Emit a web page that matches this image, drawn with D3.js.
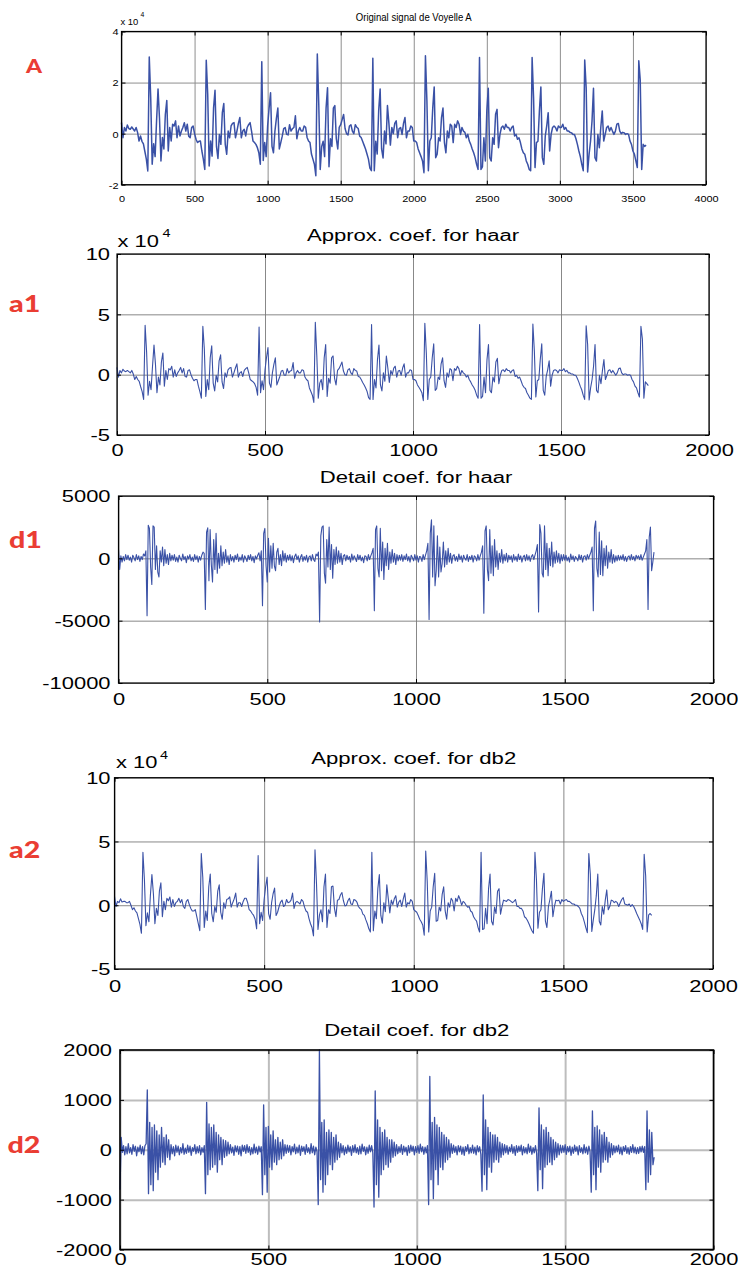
<!DOCTYPE html>
<html>
<head>
<meta charset="utf-8">
<script src="https://cdn.jsdelivr.net/npm/d3@7"></script>
<style>
  html, body { margin: 0; padding: 0; background: #fff; }
  svg { display: block; }
</style>
</head>
<body>
<script>
// Vowel "A": original speech signal and its level-1 wavelet coefficients.

// Original signal, in units of 10^4, one value every 10 samples.
const signalA = [
  0.43,-0.16,0.24,0.1,0.34,0.2,0.17,0.26,0.18,0.1,
  0.24,0.05,-0.29,-0.09,-0.3,-0.4,-0.7,-1.0,-1.46,3.0,
  1.4,-1.2,-0.4,-0.9,0.5,1.75,0.6,-1.07,-0.15,-0.6,
  0.75,1.3,-0.68,0.24,-0.29,0.37,0.3,0.5,-0.16,0.3,
  -0.09,0.1,0.24,0.43,0.1,0.37,-0.1,-0.16,0.24,0.3,
  0.0,-0.22,-0.35,-0.3,-0.29,-0.68,-1.0,-1.4,2.87,1.54,
  -1.27,-0.29,-0.88,1.0,1.7,-0.5,-0.97,-0.03,-0.42,0.82,
  1.18,-0.42,-0.81,0.1,-0.16,0.3,0.4,0.43,-0.16,0.1,
  0.4,0.63,-0.16,0.1,0.17,-0.09,0.24,0.35,0.43,0.1,
  -0.29,-0.35,-0.42,-0.55,-0.75,-1.2,2.82,-1.05,-0.35,-0.9,
  0.3,1.0,1.6,-0.5,-0.75,0.1,0.6,1.0,-0.6,-0.35,
  -0.1,0.2,0.24,-0.03,-0.05,0.35,0.1,0.2,0.24,0.7,
  -0.2,0.1,0.24,0.1,0.1,0.3,0.25,-0.15,-0.29,-0.35,
  -0.8,-1.0,-1.2,-1.65,3.12,1.15,-1.4,-0.5,-0.3,-0.9,
  1.0,1.8,-1.3,-0.2,-0.5,1.0,1.1,-0.2,-0.6,0.25,
  0.35,0.55,0.75,0.2,0.0,-0.05,0.3,0.35,0.1,0.0,
  0.35,0.25,0.2,-0.1,-0.15,-0.3,-0.45,-0.6,-0.8,-1.0,
  -1.35,-1.45,2.95,-1.45,-0.3,-0.8,0.9,1.75,-0.6,-0.95,
  0.1,-0.4,1.1,0.4,-0.45,0.24,0.0,0.4,0.5,-0.16,
  0.2,0.24,-0.03,0.4,0.63,-0.16,0.1,0.1,0.3,0.24,
  -0.29,-0.29,-0.35,-0.6,-0.75,-0.9,-1.07,-1.53,3.05,1.3,
  -1.45,-0.29,-0.16,1.0,1.83,-0.94,-0.81,-0.16,-0.29,0.63,
  1.0,-0.35,-0.75,0.1,-0.16,0.37,0.3,-0.35,0.37,0.24,
  0.5,0.37,-0.03,0.24,0.1,0.05,-0.16,-0.03,-0.29,-0.42,
  -0.6,-0.75,-0.94,-1.2,-1.4,2.98,-1.4,-1.3,-0.16,-1.07,
  0.89,1.78,-0.94,-1.07,-0.16,-0.42,0.76,0.95,-0.55,-0.03,
  0.24,0.3,0.17,0.37,0.24,0.24,0.1,0.24,0.3,-0.09,
  -0.03,-0.22,-0.16,-0.35,-0.6,-0.75,-0.81,-1.07,-1.2,-1.4,
  -1.45,2.98,1.4,-1.33,-0.35,-0.3,0.9,1.83,-0.94,-1.2,
  -0.1,0.3,0.82,-0.68,-0.03,0.24,0.3,0.24,0.1,0.3,
  0.24,0.24,0.37,0.17,0.24,0.1,0.1,0.05,0.03,-0.03,
  -0.03,-0.2,-0.42,-0.68,-0.9,-1.2,-1.45,2.88,1.8,-1.5,
  -0.8,-0.29,0.5,1.78,-0.94,-1.07,-0.03,-0.55,0.24,0.89,
  -0.29,-0.03,0.24,0.3,0.1,0.24,0.1,-0.03,0.1,0.37,
  0.4,0.1,0.0,0.05,0.03,-0.03,0.0,-0.03,-0.29,-0.42,
  -0.68,-0.8,-1.07,-1.33,2.85,2.1,-1.4,-0.42,-0.5,-0.45
];

// Haar approximation coefficients, units of 10^4, every 5th coefficient.
const approxHaar = [
  0.6,-0.2,0.35,0.15,0.45,0.3,0.25,0.35,0.25,0.15,
  0.35,0.05,-0.4,-0.15,-0.4,-0.55,-1.0,-1.4,-2.05,4.1,
  1.9,-1.7,-0.55,-1.25,0.7,2.45,0.85,-1.5,-0.2,-0.85,
  1.05,1.8,-0.95,0.35,-0.4,0.5,0.4,0.7,-0.2,0.4,
  -0.15,0.15,0.35,0.6,0.15,0.5,-0.15,-0.2,0.35,0.4,
  0.0,-0.3,-0.5,-0.4,-0.4,-0.95,-1.4,-1.95,4.0,2.15,
  -1.8,-0.4,-1.25,1.4,2.4,-0.7,-1.35,-0.05,-0.6,1.15,
  1.65,-0.6,-1.15,0.15,-0.2,0.4,0.55,0.6,-0.2,0.15,
  0.55,0.9,-0.2,0.15,0.25,-0.15,0.35,0.5,0.6,0.15,
  -0.4,-0.5,-0.6,-0.75,-1.05,-1.7,3.95,-1.5,-0.5,-1.25,
  0.4,1.4,2.25,-0.7,-1.05,0.15,0.85,1.4,-0.85,-0.5,
  -0.15,0.3,0.35,-0.05,-0.05,0.5,0.15,0.3,0.35,1.0,
  -0.3,0.15,0.35,0.15,0.15,0.4,0.35,-0.2,-0.4,-0.5,
  -1.1,-1.4,-1.7,-2.3,4.35,1.6,-1.95,-0.7,-0.4,-1.25,
  1.4,2.5,-1.8,-0.3,-0.7,1.4,1.55,-0.3,-0.85,0.35,
  0.5,0.75,1.05,0.3,0.0,-0.05,0.4,0.5,0.15,0.0,
  0.5,0.35,0.3,-0.15,-0.2,-0.4,-0.65,-0.85,-1.1,-1.4,
  -1.9,-2.05,4.15,-2.05,-0.4,-1.1,1.25,2.45,-0.85,-1.35,
  0.15,-0.55,1.55,0.55,-0.65,0.35,0.0,0.55,0.7,-0.2,
  0.3,0.35,-0.05,0.55,0.9,-0.2,0.15,0.15,0.4,0.35,
  -0.4,-0.4,-0.5,-0.85,-1.05,-1.25,-1.5,-2.15,4.25,1.8,
  -2.05,-0.4,-0.2,1.4,2.55,-1.3,-1.15,-0.2,-0.4,0.9,
  1.4,-0.5,-1.05,0.15,-0.2,0.5,0.4,-0.5,0.5,0.35,
  0.7,0.5,-0.05,0.35,0.15,0.05,-0.2,-0.05,-0.4,-0.6,
  -0.85,-1.05,-1.3,-1.7,-1.95,4.15,-1.95,-1.8,-0.2,-1.5,
  1.25,2.5,-1.3,-1.5,-0.2,-0.6,1.05,1.35,-0.75,-0.05,
  0.35,0.4,0.25,0.5,0.35,0.35,0.15,0.35,0.4,-0.15,
  -0.05,-0.3,-0.2,-0.5,-0.85,-1.05,-1.15,-1.5,-1.7,-1.95,
  -2.05,4.2,1.95,-1.85,-0.5,-0.4,1.25,2.55,-1.3,-1.7,
  -0.15,0.4,1.15,-0.95,-0.05,0.35,0.4,0.35,0.15,0.4,
  0.35,0.35,0.5,0.25,0.35,0.15,0.15,0.05,0.05,-0.05,
  -0.05,-0.3,-0.6,-0.95,-1.25,-1.7,-2.05,4.05,2.5,-2.1,
  -1.1,-0.4,0.7,2.5,-1.3,-1.5,-0.05,-0.75,0.35,1.25,
  -0.4,-0.05,0.35,0.4,0.15,0.35,0.15,-0.05,0.15,0.5,
  0.55,0.15,0.0,0.05,0.05,-0.05,0.0,-0.05,-0.4,-0.6,
  -0.95,-1.1,-1.5,-1.85,4.0,2.95,-1.95,-0.6,-0.75,-0.9
];

// Haar detail coefficients, every 4th coefficient.
const detailHaar = [
  700,-900,200,-300,150,-200,300,-100,250,-150,
  100,-300,250,50,-200,300,-100,200,-250,150,
  -100,350,200,600,-4600,
  2650,2400,-700,-2100,2600,2500,-900,1000,-1100,-1500,
  600,-300,900,-600,700,-400,300,-500,400,-200,
  250,-150,300,-250,100,-300,250,0,-200,350,
  -100,150,-350,200,-50,300,-200,100,-250,300,
  -100,200,-300,150,-150,250,500,
  400,-4100,
  2100,2450,-1800,2300,-500,-1900,1500,-900,2000,-1200,
  400,-800,1000,-600,500,-400,700,-300,200,-500,
  300,-200,150,-300,250,-100,350,-250,100,-150,
  300,-300,200,0,-250,250,-100,300,-200,150,
  -350,200,-50,250,450,-200,
  600,-3800,
  2000,2400,-600,-1900,1600,-1100,1000,-800,1200,-600,
  -1000,500,800,-500,300,-600,600,-200,400,-300,
  250,-150,300,-200,200,-350,150,350,-100,200,
  -300,100,300,-250,150,-150,250,-300,100,200,
  -200,300,-100,-250,350,200,
  500,-5100,
  1800,2500,2600,-1200,-2000,1500,-700,2500,-900,1100,
  -1600,700,-500,900,-400,600,-300,400,-500,200,
  300,-200,250,-100,150,-300,350,-150,200,0,
  -250,300,-100,250,-200,100,-350,200,150,-200,
  300,-100,200,450,
  800,-4200,
  2300,2600,-800,-1500,2400,-1000,1300,-1700,800,-600,
  1200,-900,500,-400,700,-300,400,-500,300,-200,
  250,-150,300,-250,200,-100,350,-200,150,-300,
  250,50,-200,300,-150,200,-300,150,100,-250,
  300,-100,250,600,
  1200,-4900,
  2000,3100,-1500,2600,-2200,-1000,1800,-1500,900,-1100,
  -400,1300,-700,600,-500,800,-300,400,-400,200,
  300,-200,150,-250,350,-100,200,-300,250,0,
  -150,300,-250,150,-100,250,-300,200,100,-200,
  300,-150,200,500,
  1000,-4400,
  2200,2600,-900,-1800,2300,-1200,1000,-1400,1500,-700,
  600,-900,400,-300,700,-400,300,-200,400,-300,
  250,-100,200,-300,300,-150,150,-250,350,-100,
  200,-300,100,250,-200,300,-150,200,-250,150,
  300,-100,250,600,
  1100,-4300,
  2700,2000,-1200,-1500,2600,-900,1200,-1400,800,-600,
  1300,-700,500,-400,600,-300,400,-400,300,-200,
  300,-150,250,-200,100,-300,350,-100,200,-250,
  150,0,-200,300,-100,250,-300,150,200,-150,
  300,-50,250,500,
  900,-4200,
  2400,3000,-800,-1500,2100,-1300,1400,-1400,800,-600,
  1000,-800,500,-300,700,-400,300,-300,200,-200,
  250,-150,200,-100,300,-200,150,-250,100,200,
  -150,300,-100,150,-200,250,0,200,-100,300,
  -150,100,350,600,
  1500,-4100,
  1700,2500,-1000,-300,500
];

// db2 approximation coefficients, units of 10^4, every 5th coefficient.
const approxDb2 = [
  0.7,-0.1,0.3,0.2,0.5,0.25,0.3,0.3,0.2,0.2,
  0.3,0.0,-0.35,-0.2,-0.45,-0.6,-1.05,-1.5,-2.2,4.15,
  2.0,-1.6,-0.6,-1.3,0.8,2.4,0.9,-1.45,-0.25,-0.8,
  1.1,1.75,-0.9,0.3,-0.35,0.55,0.35,0.65,-0.15,0.45,
  -0.1,0.2,0.3,0.55,0.2,0.45,-0.1,-0.25,0.3,0.45,
  0.05,-0.25,-0.45,-0.45,-0.35,-0.9,-1.45,-2.0,4.05,2.2,
  -1.75,-0.45,-1.2,1.45,2.45,-0.65,-1.3,-0.1,-0.55,1.1,
  1.6,-0.55,-1.1,0.2,-0.25,0.45,0.5,0.65,-0.15,0.2,
  0.5,0.95,-0.15,0.2,0.2,-0.1,0.3,0.55,0.55,0.2,
  -0.35,-0.45,-0.65,-0.8,-1.1,-1.85,3.9,-1.45,-0.55,-1.2,
  0.45,1.45,2.2,-0.65,-1.1,0.2,0.9,1.35,-0.8,-0.55,
  -0.1,0.25,0.4,-0.1,0.0,0.45,0.2,0.25,0.4,0.95,
  -0.25,0.2,0.3,0.2,0.1,0.45,0.3,-0.15,-0.45,-0.55,
  -1.05,-1.45,-1.75,-2.4,4.35,1.7,-1.9,-0.75,-0.35,-1.3,
  1.45,2.45,-1.75,-0.35,-0.65,1.45,1.5,-0.25,-0.9,0.4,
  0.45,0.8,1.0,0.35,-0.05,0.0,0.35,0.55,0.1,0.05,
  0.45,0.4,0.25,-0.1,-0.25,-0.35,-0.7,-0.8,-1.15,-1.45,
  -1.85,-2.1,4.15,-2.0,-0.45,-1.05,1.3,2.4,-0.8,-1.4,
  0.2,-0.5,1.6,0.5,-0.6,0.4,0.05,0.5,0.75,-0.15,
  0.25,0.4,-0.1,0.5,0.95,-0.15,0.2,0.1,0.45,0.3,
  -0.35,-0.45,-0.55,-0.8,-1.1,-1.3,-1.55,-2.35,4.25,1.9,
  -2.1,-0.45,-0.15,1.45,2.5,-1.25,-1.2,-0.15,-0.45,0.85,
  1.45,-0.45,-1.1,0.2,-0.15,0.55,0.35,-0.45,0.55,0.3,
  0.75,0.45,0.0,0.3,0.2,0.0,-0.15,-0.1,-0.45,-0.55,
  -0.9,-1.1,-1.25,-1.75,-2.1,4.15,-1.9,-1.85,-0.25,-1.45,
  1.3,2.45,-1.25,-1.55,-0.15,-0.65,1.1,1.3,-0.7,-0.1,
  0.4,0.35,0.3,0.45,0.4,0.3,0.2,0.3,0.45,-0.1,
  -0.1,-0.25,-0.25,-0.45,-0.9,-1.0,-1.2,-1.45,-1.75,-2.0,
  -2.2,4.15,2.0,-1.8,-0.55,-0.35,1.3,2.5,-1.25,-1.75,
  -0.1,0.45,1.1,-0.9,-0.1,0.4,0.35,0.4,0.1,0.45,
  0.3,0.4,0.45,0.3,0.3,0.2,0.1,0.1,0.0,0.0,
  -0.1,-0.25,-0.65,-0.9,-1.3,-1.75,-2.15,4.05,2.45,-2.05,
  -1.15,-0.35,0.75,2.45,-1.25,-1.55,-0.1,-0.7,0.4,1.2,
  -0.35,-0.1,0.4,0.35,0.2,0.3,0.2,-0.1,0.2,0.45,
  0.6,0.1,0.05,0.0,0.1,-0.1,0.05,-0.1,-0.35,-0.65,
  -0.9,-1.15,-1.45,-1.9,4.0,2.3,-2.1,-0.75,-0.65,-0.8
];

// db2 detail coefficients, every 4th coefficient.
const detailDb2 = [
  -800,250,-50,80,-100,60,-80,120,-60,40,
  -90,100,-30,70,-120,50,-40,90,-80,60,
  -100,80,
  120,1200,-880,
  550,-700,450,-820,500,-450,380,-600,300,-350,450,-250,250,-300,300,-150,200,-200,
  100,-80,60,-120,90,-50,70,-100,40,-60,120,-90,30,-70,90,-50,70,-110,40,-30,
  100,-80,60,-60,80,-100,40,-50,80,
  -880,950,
  -500,520,-400,450,-350,500,-300,350,-450,300,-200,250,-300,200,-150,180,-120,150,
  -80,100,-60,50,-110,80,-40,70,-90,60,-120,90,-30,80,-70,100,-50,60,-100,40,
  -80,110,-60,50,-90,70,-40,60,
  -900,900,
  -500,450,-850,470,-350,300,-400,380,-250,200,-300,250,-200,150,-180,200,-120,100,
  -70,90,-50,80,-100,60,-40,110,-80,50,-60,90,-110,70,-30,60,-90,100,-50,40,
  -80,120,-60,70,-100,50,-40,
  -1100,2000,
  -600,550,-850,600,-700,350,-500,400,-300,350,-400,250,-250,300,-200,150,-150,120,
  -60,80,-100,50,-70,90,-40,60,-110,80,-50,100,-60,40,-90,70,-80,110,-30,60,
  -100,50,-70,90,-40,80,-60,
  -1150,1180,
  -700,600,-950,450,-500,350,-400,400,-300,250,-350,200,-250,200,-150,150,-120,100,
  -80,60,-50,100,-90,70,-40,50,-110,80,-60,90,-30,70,-100,60,-50,80,-70,110,
  -40,60,-90,50,-60,80,
  -1100,1470,
  -600,550,-980,650,-400,500,-700,450,-350,350,-400,300,-250,250,-200,200,-150,120,
  -70,90,-50,60,-100,80,-40,70,-90,50,-110,60,-30,100,-80,40,-60,90,-70,50,
  -100,80,-40,60,-90,
  -830,1100,
  -500,600,-800,450,-350,350,-450,300,-250,300,-200,250,-250,150,-150,120,-100,100,
  -60,80,-90,50,-40,100,-70,60,-110,80,-50,70,-30,90,-100,60,-60,40,-80,110,
  -50,70,-90,40,-60,80,-70,
  -820,840,
  -400,500,-780,400,-350,450,-300,350,-250,250,-300,200,-200,150,-150,120,-100,90,
  -60,80,-50,100,-90,60,-40,70,-110,50,-70,90,-30,60,-100,80,-50,40,-80,100,
  -60,50,-90,70,-40,
  -850,780,
  -500,450,-800,480,-350,400,-450,300,-250,350,-200,250,-250,150,-150,120,-100,80,
  -60,70,-40,90,-80,50,-100,60,-30,80,-70,40,-90,60,-50,100,-60,50,-80,40,
  -70,60,-40,70,-50,60,
  -800,780,
  -650,400,-500,350,-300,-150
];

// Sample spacing of each stored series.
const stepSignal = 10, stepApprox = 5, stepDetail = 4;

const titles = [
  "Original signal de Voyelle A",
  "Approx. coef. for haar",
  "Detail coef. for haar",
  "Approx. coef. for db2",
  "Detail coef. for db2"
];
const rowLabels = ["A", "a1", "d1", "a2", "d2"];
const xTicksSignal = [0, 500, 1000, 1500, 2000, 2500, 3000, 3500, 4000];
const xTicksCoef = [0, 500, 1000, 1500, 2000];
const yTicksSignal = [-2, 0, 2, 4];
const yTicksApprox = [-5, 0, 5, 10];
const yTicksDetailHaar = [-10000, -5000, 0, 5000];
const yTicksDetailDb2 = [-2000, -1000, 0, 1000, 2000];
const exponentText = ["x 10", "4"];

const series = [
  { values: signalA,    step: stepSignal, xDomain: [0, 4000], xTicks: xTicksSignal, yDomain: [-2, 4],        yTicks: yTicksSignal,     scaled: true  },
  { values: approxHaar, step: stepApprox, xDomain: [0, 2000], xTicks: xTicksCoef,   yDomain: [-5, 10],       yTicks: yTicksApprox,     scaled: true  },
  { values: detailHaar, step: stepDetail, xDomain: [0, 2000], xTicks: xTicksCoef,   yDomain: [-10000, 5000], yTicks: yTicksDetailHaar, scaled: false },
  { values: approxDb2,  step: stepApprox, xDomain: [0, 2000], xTicks: xTicksCoef,   yDomain: [-5, 10],       yTicks: yTicksApprox,     scaled: true  },
  { values: detailDb2,  step: stepDetail, xDomain: [0, 2000], xTicks: xTicksCoef,   yDomain: [-2000, 2000],  yTicks: yTicksDetailDb2,  scaled: false }
];

// Page geometry and typography of each subplot.
const layout = [
  { box: [121.5, 706, 31.5, 184.7], lw: 1.5, grid: "#8f8f8f", gw: 1,   bw: 1.2, font: 9.5, sx: 1.15, xlab: 202,   ygap: 3,
    title: { y: 20.5, size: 11, len: 116 },
    exp: { x: 120.5, y: 25, size: 9, sx: 1.05, supX: 140.5, supY: 16.7, supSize: 6.5 },
    label: { x: 26, y: 73, size: 19, sx: 1.2 } },
  { box: [117, 709, 254, 435], lw: 1.1, grid: "#7a7a7a", gw: 0.9, bw: 1.2, font: 16, sx: 1.37, xlab: 456,   ygap: 7,
    title: { y: 241, size: 16, sx: 1.38 },
    exp: { x: 117.5, y: 246.7, size: 16, sx: 1.37, supX: 162.5, supY: 237.3, supSize: 10.5 },
    label: { x: 9, y: 311.7, size: 22, sx: 1.3 } },
  { box: [118.5, 713.5, 496, 683], lw: 1.1, grid: "#7a7a7a", gw: 0.9, bw: 1.2, font: 16, sx: 1.37, xlab: 705,   ygap: 8,
    title: { y: 482.7, size: 16, sx: 1.38 },
    label: { x: 9, y: 548.3, size: 22, sx: 1.3 } },
  { box: [114.5, 713, 777.7, 969], lw: 1.1, grid: "#7a7a7a", gw: 0.9, bw: 1.2, font: 16, sx: 1.37, xlab: 992.5, ygap: 4,
    title: { y: 764, size: 16, sx: 1.38 },
    exp: { x: 116, y: 768.3, size: 16, sx: 1.37, supX: 160, supY: 759, supSize: 10.5 },
    label: { x: 9, y: 858, size: 22, sx: 1.3 } },
  { box: [120, 713.5, 1050, 1249.5], lw: 1.3, grid: "#bdbdbd", gw: 2, bw: 1.6, font: 16, sx: 1.37, xlab: 1265.5, ygap: 8,
    title: { y: 1036, size: 16, sx: 1.38 },
    label: { x: 7.5, y: 1153, size: 22, sx: 1.3 } }
];

const W = 738, H = 1276;
const LINE = "#3a51a6";
const RED = "#ea3d33";
const FONT = "'Liberation Sans', Arial, Helvetica, sans-serif";
const LABEL_FONT = "Lato, 'Open Sans', 'Noto Sans', sans-serif";

const svg = d3.select("body").append("svg").attr("width", W).attr("height", H);
svg.append("rect").attr("width", W).attr("height", H).attr("fill", "#fff");

function stretched(parent, x, y, str, size, sx, anchor, family) {
  return parent.append("text")
    .attr("transform", `translate(${x},${y}) scale(${sx},1)`)
    .attr("font-family", family || FONT)
    .attr("font-size", size)
    .attr("text-anchor", anchor || "start")
    .attr("fill", "#000")
    .text(str);
}

series.forEach((s, k) => {
  const L = layout[k];
  const [x0, x1, y0, y1] = L.box;
  const x = d3.scaleLinear().domain(s.xDomain).range([x0, x1]);
  const y = d3.scaleLinear().domain(s.yDomain).range([y1, y0]);
  const g = svg.append("g");

  // grid lines
  const styleGrid = a => {
    a.select(".domain").remove();
    a.selectAll("line").attr("stroke", L.grid).attr("stroke-width", L.gw);
  };
  g.append("g").attr("transform", `translate(0,${y1})`)
    .call(d3.axisBottom(x).tickValues(s.xTicks).tickSize(-(y1 - y0)).tickFormat(""))
    .call(styleGrid);
  g.append("g").attr("transform", `translate(${x0},0)`)
    .call(d3.axisLeft(y).tickValues(s.yTicks).tickSize(-(x1 - x0)).tickFormat(""))
    .call(styleGrid);

  // the series itself
  g.append("path")
    .datum(s.values)
    .attr("fill", "none")
    .attr("stroke", LINE)
    .attr("stroke-width", L.lw)
    .attr("stroke-linejoin", "round")
    .attr("d", d3.line().x((d, i) => x(i * s.step)).y(d => y(d)));

  // axes box
  g.append("rect")
    .attr("x", x0).attr("y", y0)
    .attr("width", x1 - x0).attr("height", y1 - y0)
    .attr("fill", "none").attr("stroke", "#000").attr("stroke-width", L.bw);

  // short inward ticks on all four sides
  const inward = [
    [d3.axisBottom(x), `translate(0,${y1})`, s.xTicks],
    [d3.axisTop(x),    `translate(0,${y0})`, s.xTicks],
    [d3.axisLeft(y),   `translate(${x0},0)`, s.yTicks],
    [d3.axisRight(y),  `translate(${x1},0)`, s.yTicks]
  ];
  inward.forEach(([ax, tr, tv]) => {
    g.append("g").attr("transform", tr)
      .call(ax.tickValues(tv).tickSize(-4).tickFormat(""))
      .call(a => {
        a.select(".domain").remove();
        a.selectAll("line").attr("stroke", "#000").attr("stroke-width", 1);
      });
  });

  // tick labels
  const xl = g.append("g").attr("transform", `translate(0,${y1})`)
    .call(d3.axisBottom(x).tickValues(s.xTicks).tickSize(0).tickPadding(0).tickFormat(d => String(d)));
  xl.select(".domain").remove();
  xl.selectAll("text")
    .attr("y", L.xlab - y1).attr("dy", null)
    .attr("transform", `scale(${L.sx},1)`)
    .attr("font-size", L.font).attr("font-family", FONT).attr("fill", "#000");

  const yl = g.append("g").attr("transform", `translate(${x0},0)`)
    .call(d3.axisLeft(y).tickValues(s.yTicks).tickSize(0).tickPadding(0).tickFormat(d => String(d)));
  yl.select(".domain").remove();
  yl.selectAll("text")
    .attr("x", -L.ygap / L.sx).attr("dy", "0.36em")
    .attr("transform", `scale(${L.sx},1)`)
    .attr("font-size", L.font).attr("font-family", FONT).attr("fill", "#000");

  // title
  const cx = (x0 + x1) / 2;
  if (L.title.len) {
    g.append("text")
      .attr("x", cx).attr("y", L.title.y)
      .attr("text-anchor", "middle")
      .attr("font-family", FONT).attr("font-size", L.title.size)
      .attr("textLength", L.title.len).attr("lengthAdjust", "spacingAndGlyphs")
      .attr("fill", "#000")
      .text(titles[k]);
  } else {
    stretched(g, cx, L.title.y, titles[k], L.title.size, L.title.sx, "middle");
  }

  // power-of-ten multiplier
  if (s.scaled && L.exp) {
    stretched(g, L.exp.x, L.exp.y, exponentText[0], L.exp.size, L.exp.sx, "start");
    stretched(g, L.exp.supX, L.exp.supY, exponentText[1], L.exp.supSize, L.exp.sx, "start");
  }

  // row label
  stretched(g, L.label.x, L.label.y, rowLabels[k], L.label.size, L.label.sx, "start", LABEL_FONT)
    .attr("font-weight", 900)
    .attr("fill", RED);
});
</script>
</body>
</html>
